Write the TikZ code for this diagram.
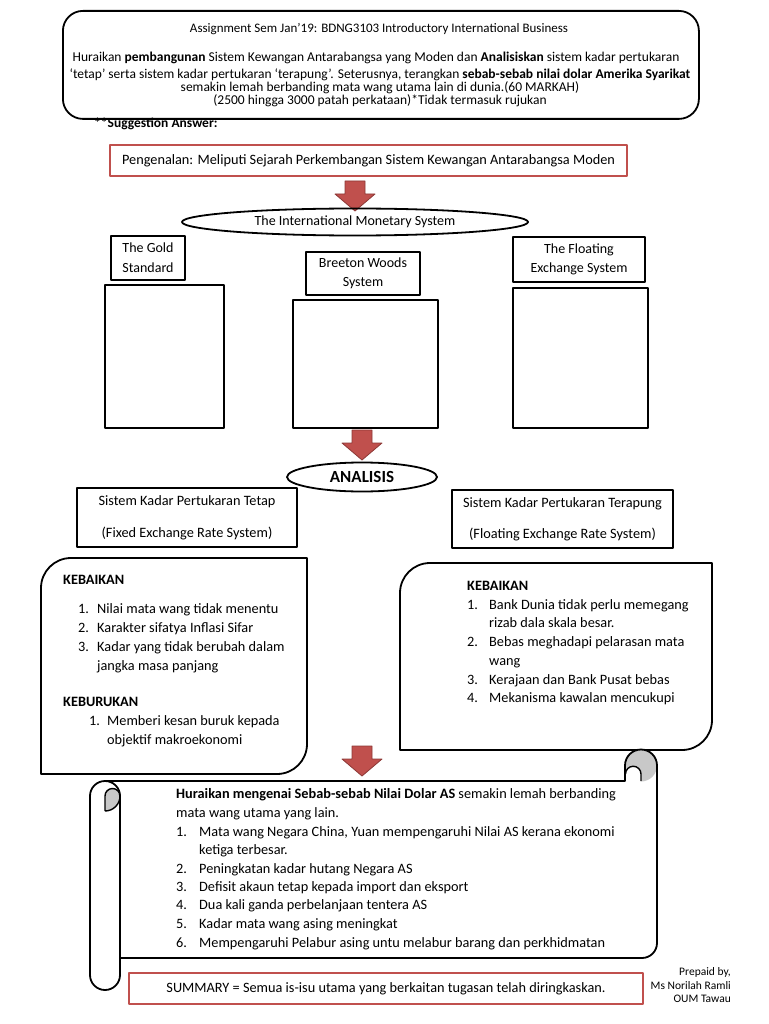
\documentclass[tikz,border=0pt]{standalone}
\usepackage{fontspec}
\setmainfont{Carlito}
\usetikzlibrary{shapes.geometric}
\definecolor{boxred}{RGB}{192,80,77}
\definecolor{arrowred}{RGB}{192,80,77}
\definecolor{arrowdark}{RGB}{140,56,54}
\definecolor{rollgray}{RGB}{200,200,200}
\newcommand\fs[2]{\fontsize{#1}{#2}\selectfont}
\newcommand\tline[4]{\node[anchor=base west, inner sep=0, font=\fs{14.3}{19}] (#1) at (#2,#3+4.5) {#4};}
\begin{document}
\begin{tikzpicture}[x=1pt,y=-1pt, line join=round,
  frame/.style={draw=black, line width=1.8pt, inner sep=0},
  thinframe/.style={draw=black, line width=1.4pt, inner sep=0},
  redbox/.style={draw=boxred, line width=1.6pt, fill=white, inner sep=0},
  blockarrow/.pic={\filldraw[fill=arrowred, draw=arrowdark, line width=0.8pt]
     (-10,0) -- (10,0) -- (10,13) -- (20,13) -- (0,30) -- (-20,13) -- (-10,13) -- cycle;}
]
\useasboundingbox (0,0) rectangle (768,1024);

% header
\node[frame, rounded corners=20, minimum width=636, minimum height=108, anchor=north west] (hdr) at (62,10) {};
\node[font=\fs{13}{15}, inner sep=0] (h0) at (379,29) {Assignment Sem Jan’19: BDNG3103 Introductory International Business};
\node[font=\fs{13.5}{15}, inner sep=0] (h1) at (376,58) {Huraikan \textbf{pembangunan} Sistem Kewangan Antarabangsa yang Moden dan \textbf{Analisiskan} sistem kadar pertukaran};
\node[font=\fs{13.5}{15}, inner sep=0] (h2) at (380,74.5) {‘tetap’ serta sistem kadar pertukaran ‘terapung’. Seterusnya, terangkan \textbf{sebab-sebab nilai dolar Amerika Syarikat}};
\node[font=\fs{13.5}{15}, inner sep=0] (h3) at (380,88) {semakin lemah berbanding mata wang utama lain di dunia.(60 MARKAH)};
\node[font=\fs{13.5}{15}, inner sep=0] (h4) at (380,101) {(2500 hingga 3000 patah perkataan)*Tidak termasuk rujukan};

\node[anchor=west, inner sep=0, font=\bfseries\fs{13.5}{16}] (sugg) at (94,124) {**Suggestion Answer:};

% intro
\node[redbox, minimum width=517, minimum height=31, font=\fs{14.3}{17}] (intro) at (368.5,160.5) {Pengenalan: Meliputi Sejarah Perkembangan Sistem Kewangan Antarabangsa Moden};
\pic at (355,181) {blockarrow};

\node[ellipse, draw, line width=1.8pt, minimum width=346, minimum height=27, inner sep=0, font=\fs{14}{17}] (ims) at (355,222) {The International Monetary System};

% three systems
\node[frame, minimum width=74, minimum height=44, align=center, font=\fs{14}{20}] (gold) at (148,258) {The Gold\\Standard};
\node[frame, minimum width=119, minimum height=143] (goldbox) at (164.5,356.5) {};
\node[frame, minimum width=114, minimum height=43, align=center, font=\fs{14}{19}] (bw) at (363,273.5) {Breeton Woods\\System};
\node[frame, minimum width=145, minimum height=128] (bwbox) at (365.5,364) {};
\node[frame, minimum width=132, minimum height=45, align=center, font=\fs{14}{19}] (fl) at (579,259.5) {The Floating\\Exchange System};
\node[frame, minimum width=135, minimum height=140] (flbox) at (580.5,358) {};

\pic at (362,430) {blockarrow};
\node[ellipse, draw, line width=1.8pt, minimum width=150, minimum height=29, inner sep=0, font=\bfseries\fs{17}{20}] (an) at (362,477) {ANALISIS};

\node[thinframe, minimum width=220, minimum height=59, align=center, font=\fs{14.3}{19}] (fixed) at (187,517.5) {Sistem Kadar Pertukaran Tetap\\[13pt](Fixed Exchange Rate System)};
\node[thinframe, minimum width=221, minimum height=58, align=center, font=\fs{14.3}{19}] (float) at (562.5,519) {Sistem Kadar Pertukaran Terapung\\[12pt](Floating Exchange Rate System)};

% left box
\draw[line width=1.8pt] (41,774) -- (41,588) arc[start angle=180,end angle=270,radius=30] -- (307,558) -- (307,744) arc[start angle=0,end angle=90,radius=30] -- cycle;
\node[anchor=base west, inner sep=0, font=\bfseries\fs{14.3}{19}] (lk) at (63,584) {KEBAIKAN};
\tline{l1n}{78}{609}{1.} \tline{l1}{97}{609}{Nilai mata wang tidak menentu}
\tline{l2n}{78}{628}{2.} \tline{l2}{97}{628}{Karakter sifatya Inflasi Sifar}
\tline{l3n}{78}{647}{3.} \tline{l3}{97}{647}{Kadar yang tidak berubah dalam}
\tline{l3b}{97}{666}{jangka masa panjang}
\node[anchor=base west, inner sep=0, font=\bfseries\fs{14.3}{19}] (lb) at (63,706.5) {KEBURUKAN};
\tline{l4n}{89}{721}{1.} \tline{l4}{107}{721}{Memberi kesan buruk kepada}
\tline{l4b}{107}{740}{objektif makroekonomi}

% right box
\draw[line width=1.8pt] (400,750) -- (400,593) arc[start angle=180,end angle=270,radius=30] -- (712,563) -- (712,720) arc[start angle=0,end angle=90,radius=30] -- cycle;
\node[anchor=base west, inner sep=0, font=\bfseries\fs{14.3}{19}] (rk) at (467,590) {KEBAIKAN};
\tline{r1n}{467}{605}{1.} \tline{r1}{489}{605}{Bank Dunia tidak perlu memegang}
\tline{r1b}{489}{623}{rizab dala skala besar.}
\tline{r2n}{467}{642}{2.} \tline{r2}{489}{642}{Bebas meghadapi pelarasan mata}
\tline{r2b}{489}{661}{wang}
\tline{r3n}{467}{680}{3.} \tline{r3}{489}{680}{Kerajaan dan Bank Pusat bebas}
\tline{r4n}{467}{698}{4.} \tline{r4}{489}{698}{Mekanisma kawalan mencukupi}

\pic at (362,746) {blockarrow};

% scroll: right roll
\fill[rollgray] (641,765.5) circle (16);
\fill[white] (625.5,782) -- (625.5,774) arc[start angle=180,end angle=360,radius=7.75] -- (641,782) -- cycle;
\draw[line width=1.8pt] (105,781) -- (625,781) -- (625,765.5) arc[start angle=180,end angle=360,radius=16] -- (657,943) arc[start angle=0,end angle=90,radius=15] -- (120,958);
\draw[line width=1.4pt] (641,781) -- (641,774) arc[start angle=360,end angle=180,radius=7.75];
% scroll: left roll
\fill[rollgray] (105,796) arc[start angle=180,end angle=360,radius=7.5] arc[start angle=0,end angle=90,radius=15] -- cycle;
\draw[line width=1.4pt] (105,811) -- (105,796) arc[start angle=180,end angle=360,radius=7.5] arc[start angle=0,end angle=90,radius=15];
\draw[line width=1.8pt] (90,975) -- (90,796) arc[start angle=180,end angle=360,radius=15] -- (120,975) arc[start angle=0,end angle=180,radius=15];

\node[anchor=base west, inner sep=0, font=\fs{14.3}{19}] (s0) at (176,798) {\textbf{Huraikan mengenai Sebab-sebab Nilai Dolar AS} semakin lemah berbanding};
\tline{s0b}{176}{813}{mata wang utama yang lain.}
\tline{s1n}{176}{832}{1.} \tline{s1}{199}{832}{Mata wang Negara China, Yuan mempengaruhi Nilai AS kerana ekonomi}
\tline{s1b}{199}{850}{ketiga terbesar.}
\tline{s2n}{176}{869}{2.} \tline{s2}{199}{869}{Peningkatan kadar hutang Negara AS}
\tline{s3n}{176}{887}{3.} \tline{s3}{199}{887}{Defisit akaun tetap kepada import dan eksport}
\tline{s4n}{176}{905}{4.} \tline{s4}{199}{905}{Dua kali ganda perbelanjaan tentera AS}
\tline{s5n}{176}{924}{5.} \tline{s5}{199}{924}{Kadar mata wang asing meningkat}
\tline{s6n}{176}{943}{6.} \tline{s6}{199}{943}{Mempengaruhi Pelabur asing untu melabur barang dan perkhidmatan}

% summary
\node[redbox, minimum width=514, minimum height=31, font=\fs{14.3}{17}] (sum) at (386,988.5) {SUMMARY = Semua is-isu utama yang berkaitan tugasan telah diringkaskan.};

\node[anchor=east, inner sep=0, font=\fs{11.5}{14}] (p1) at (731,972) {Prepaid by,};
\node[anchor=east, inner sep=0, font=\fs{11.5}{14}] (p2) at (731,986) {Ms Norilah Ramli};
\node[anchor=east, inner sep=0, font=\fs{11.5}{14}] (p3) at (731,999) {OUM Tawau};
\end{tikzpicture}
\end{document}
